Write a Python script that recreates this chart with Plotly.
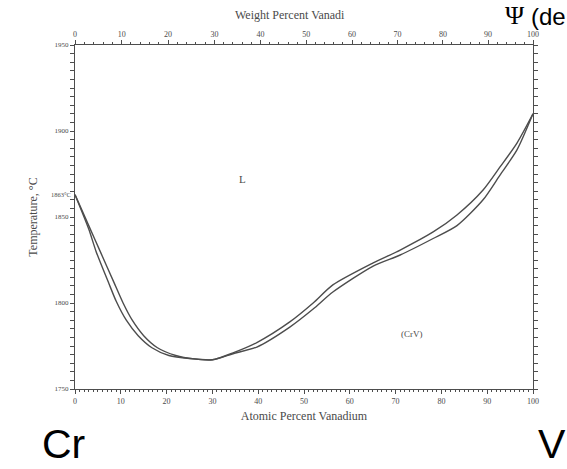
import plotly.graph_objects as go

# Atomic percent V and temperature (°C)
liq_x = [0, 3, 5.5, 8.5, 10.5, 12.5, 15, 18, 22, 26, 30, 34.5, 39.7, 46.9, 52, 56.3, 65.1, 71, 78.2, 83.4, 89.1, 92.8, 96.5, 100]
liq_t = [1863, 1845, 1830, 1812, 1800, 1790, 1781, 1774, 1769.5, 1767.5, 1767, 1771, 1777, 1789, 1800, 1810.5, 1823.3, 1830.8, 1841.3, 1851.2, 1865.7, 1879.1, 1893, 1910]
sol_x = [0, 3, 4.6, 7.3, 9.0, 11.2, 13.8, 16.8, 20.5, 25, 30, 34.5, 39.7, 46.9, 52, 56.3, 65.1, 71, 78.2, 83.4, 89.1, 92.8, 96.5, 100]
sol_t = [1863, 1843, 1830, 1812, 1801, 1790, 1781, 1774, 1769.5, 1767.7, 1767, 1770.5, 1774.4, 1786, 1796.5, 1806.4, 1821.5, 1827.9, 1837.5, 1845, 1860, 1874.4, 1889, 1910]

y_ticks = [1750, 1800, 1850, 1900, 1950]
x_ticks = [0, 10, 20, 30, 40, 50, 60, 70, 80, 90, 100]
wt_ticks = [0, 10, 20, 30, 40, 50, 60, 70, 80, 90, 100]
wt_minor = list(range(0, 101, 2))
M_V, M_CR = 50.94, 52.00

def wt_to_at(w):
    nv = w / M_V
    nc = (100 - w) / M_CR
    return 100 * nv / (nv + nc)

SERIF = "Liberation Serif"
GREY = "#4a4a4a"
LINE = "#4d4d4d"

fig = go.Figure()
for xs, ts in ((liq_x, liq_t), (sol_x, sol_t)):
    fig.add_trace(go.Scatter(x=xs, y=ts, mode="lines",
                             line=dict(color=LINE, width=1.4, shape="spline", smoothing=0.7),
                             showlegend=False, hoverinfo="skip"))
fig.add_trace(go.Scatter(x=[0, 100], y=[1750, 1750], xaxis="x2", mode="lines",
                         line=dict(width=0), showlegend=False, hoverinfo="skip"))

fig.update_layout(
    width=567, height=469,
    margin=dict(l=75, r=34, t=45, b=80),
    paper_bgcolor="white", plot_bgcolor="white",
    font=dict(family=SERIF, color=GREY, size=8),
    xaxis=dict(range=[0, 100], tickvals=x_ticks, ticks="outside", ticklen=4,
               tickcolor=LINE, showline=True, linecolor=LINE, linewidth=1.2,
               mirror=True, showgrid=False, zeroline=False,
               tickfont=dict(size=8, color=GREY),
               minor=dict(dtick=1, ticks="outside", ticklen=2, tickcolor=LINE),
               title=dict(text="Atomic Percent Vanadium", font=dict(size=12, color=GREY), standoff=6)),
    xaxis2=dict(range=[0, 100], overlaying="x", side="top",
                tickvals=[wt_to_at(w) for w in wt_ticks], ticktext=[str(w) for w in wt_ticks],
                ticks="outside", ticklen=4, tickcolor=LINE, showgrid=False, zeroline=False,
                showline=False, tickfont=dict(size=8, color=GREY),
                minor=dict(tickvals=[wt_to_at(w) for w in wt_minor], ticks="outside",
                           ticklen=2, tickcolor=LINE)),
    yaxis=dict(range=[1750, 1950], tickvals=y_ticks, ticks="outside", ticklen=4,
               tickcolor=LINE, showline=True, linecolor=LINE, linewidth=1.2,
               mirror="allticks", showgrid=False, zeroline=False,
               tickfont=dict(size=7, color=GREY),
               minor=dict(dtick=5, ticks="outside", ticklen=2, tickcolor=LINE),
               title=dict(text="Temperature, °C", font=dict(size=12, color=GREY), standoff=14)),
)

fig.add_annotation(text="Weight Percent Vanadi", xref="paper", yref="paper",
                   x=(290 - 75) / 458, y=1 + (45 - 15) / 344, xanchor="center", yanchor="middle",
                   showarrow=False, font=dict(size=12, color=GREY, family=SERIF))
fig.add_annotation(text="L", x=36.5, y=1872, showarrow=False,
                   font=dict(size=11, color=GREY, family=SERIF))
fig.add_annotation(text="(CrV)", x=73.5, y=1782, showarrow=False,
                   font=dict(size=9, color=GREY, family=SERIF))
fig.add_annotation(text="1863°C", x=0, y=1863, xanchor="right", xshift=-2, showarrow=False,
                   font=dict(size=6.5, color=GREY, family=SERIF))
# Slide texts around the chart
fig.add_annotation(text="Ψ", xref="paper", yref="paper", x=(503 - 75) / 458, y=1 + (45 - 15) / 344,
                   xanchor="left", yanchor="middle", showarrow=False,
                   font=dict(size=26, color="black", family=SERIF))
fig.add_annotation(text="(de", xref="paper", yref="paper", x=(529 - 75) / 458, y=1 + (45 - 16) / 344,
                   xanchor="left", yanchor="middle", showarrow=False,
                   font=dict(size=24, color="black", family="Liberation Sans"))
fig.add_annotation(text="Cr", xref="paper", yref="paper", x=(40 - 75) / 458, y=-(444 - 389) / 344,
                   xanchor="left", yanchor="middle", showarrow=False,
                   font=dict(size=41, color="black", family="Liberation Sans"))
fig.add_annotation(text="V", xref="paper", yref="paper", x=(536 - 75) / 458, y=-(444 - 389) / 344,
                   xanchor="left", yanchor="middle", showarrow=False,
                   font=dict(size=41, color="black", family="Liberation Sans"))

fig.write_html("out.html")
